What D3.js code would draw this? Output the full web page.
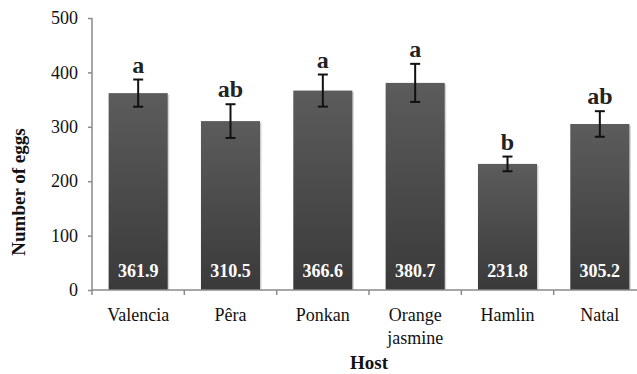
<!DOCTYPE html>
<html>
<head>
<meta charset="utf-8">
<script src="https://cdn.jsdelivr.net/npm/d3@7"></script>
<style>
  body { margin: 0; background: #fff; }
  svg { display: block; }
</style>
</head>
<body>
<div id="chart"></div>
<script>
var hosts = ["Valencia", "Pêra", "Ponkan", "Orange jasmine", "Hamlin", "Natal"];
var eggs = [361.9, 310.5, 366.6, 380.7, 231.8, 305.2];
var errors = [25, 31, 29.5, 35, 13.5, 23.5];
var letters = ["a", "ab", "a", "a", "b", "ab"];
var yTicks = [0, 100, 200, 300, 400, 500];

var width = 637, height = 374;

var svg = d3.select("#chart").append("svg")
    .attr("width", width)
    .attr("height", height);

// note: "top" is taken by window.top, so use plot* names
var plotLeft = 92, plotRight = 646, plotTop = 18, plotBottom = 290;

var x = d3.scaleBand()
    .domain(hosts)
    .range([plotLeft, plotRight])
    .paddingInner(0.36)
    .paddingOuter(0.18);

var y = d3.scaleLinear()
    .domain([0, 500])
    .range([plotBottom, plotTop]);

var defs = svg.append("defs");
var grad = defs.append("linearGradient")
    .attr("id", "barGrad")
    .attr("x1", 0).attr("y1", 0)
    .attr("x2", 0).attr("y2", 1);
grad.append("stop").attr("offset", "0%").attr("stop-color", "#5c5c5c");
grad.append("stop").attr("offset", "100%").attr("stop-color", "#3a3a3a");

// faint shadow behind bars
svg.selectAll(".shadow")
  .data(eggs)
  .enter().append("rect")
    .attr("class", "shadow")
    .attr("x", function(d, i) { return x(hosts[i]) + 1.5; })
    .attr("y", function(d) { return y(d) + 1.5; })
    .attr("width", x.bandwidth())
    .attr("height", function(d) { return plotBottom - y(d) - 1.5; })
    .attr("fill", "#d4d4d4");

svg.selectAll(".bar")
  .data(eggs)
  .enter().append("rect")
    .attr("class", "bar")
    .attr("x", function(d, i) { return x(hosts[i]); })
    .attr("y", function(d) { return y(d); })
    .attr("width", x.bandwidth())
    .attr("height", function(d) { return plotBottom - y(d); })
    .attr("fill", "url(#barGrad)");

// axes
var yAxis = svg.append("g")
    .attr("transform", "translate(" + plotLeft + ",0)")
    .call(d3.axisLeft(y).tickValues(yTicks).tickSize(4).tickPadding(10).tickSizeOuter(0));
yAxis.select(".domain").attr("stroke", "#8a8a8a").attr("stroke-width", 1.5)
    .attr("d", "M0," + (plotBottom + 5) + "V" + plotTop);
yAxis.selectAll(".tick line").attr("stroke", "#8a8a8a").attr("stroke-width", 1.5);
yAxis.selectAll(".tick text")
    .attr("font-family", "Liberation Serif")
    .attr("font-size", 18)
    .attr("fill", "#111");

svg.append("line")
    .attr("x1", plotLeft).attr("x2", width)
    .attr("y1", plotBottom).attr("y2", plotBottom)
    .attr("stroke", "#8a8a8a").attr("stroke-width", 1.5);

svg.selectAll(".xtick")
  .data(hosts.slice(1))
  .enter().append("line")
    .attr("class", "xtick")
    .attr("x1", function(d) { return x(d) - x.step() * x.paddingInner() / 2; })
    .attr("x2", function(d) { return x(d) - x.step() * x.paddingInner() / 2; })
    .attr("y1", plotBottom).attr("y2", plotBottom + 5)
    .attr("stroke", "#8a8a8a").attr("stroke-width", 1.5);

// error bars
var cap = 5;
var eb = svg.selectAll(".err")
  .data(eggs)
  .enter().append("g")
    .attr("class", "err")
    .attr("stroke", "#111")
    .attr("stroke-width", 2);
eb.append("line")
    .attr("x1", function(d, i) { return x(hosts[i]) + x.bandwidth() / 2; })
    .attr("x2", function(d, i) { return x(hosts[i]) + x.bandwidth() / 2; })
    .attr("y1", function(d, i) { return y(d + errors[i]); })
    .attr("y2", function(d, i) { return y(d - errors[i]); });
eb.append("line")
    .attr("x1", function(d, i) { return x(hosts[i]) + x.bandwidth() / 2 - cap; })
    .attr("x2", function(d, i) { return x(hosts[i]) + x.bandwidth() / 2 + cap; })
    .attr("y1", function(d, i) { return y(d + errors[i]); })
    .attr("y2", function(d, i) { return y(d + errors[i]); });
eb.append("line")
    .attr("x1", function(d, i) { return x(hosts[i]) + x.bandwidth() / 2 - cap; })
    .attr("x2", function(d, i) { return x(hosts[i]) + x.bandwidth() / 2 + cap; })
    .attr("y1", function(d, i) { return y(d - errors[i]); })
    .attr("y2", function(d, i) { return y(d - errors[i]); });

// significance letters
svg.selectAll(".letter")
  .data(letters)
  .enter().append("text")
    .attr("class", "letter")
    .text(function(d) { return d; })
    .attr("x", function(d, i) { return x(hosts[i]) + x.bandwidth() / 2; })
    .attr("y", function(d, i) { return y(eggs[i] + errors[i]) - 7; })
    .attr("text-anchor", "middle")
    .attr("font-family", "Liberation Serif")
    .attr("font-weight", "bold")
    .attr("font-size", 24)
    .attr("fill", "#222");

// values inside bars
svg.selectAll(".val")
  .data(eggs)
  .enter().append("text")
    .attr("class", "val")
    .text(function(d) { return d.toFixed(1); })
    .attr("x", function(d, i) { return x(hosts[i]) + x.bandwidth() / 2; })
    .attr("y", plotBottom - 13)
    .attr("text-anchor", "middle")
    .attr("font-family", "Liberation Serif")
    .attr("font-weight", "bold")
    .attr("font-size", 18)
    .attr("fill", "#fff");

// category labels
var cat = svg.selectAll(".cat")
  .data(hosts)
  .enter().append("text")
    .attr("class", "cat")
    .attr("x", function(d) { return x(d) + x.bandwidth() / 2; })
    .attr("y", 321)
    .attr("text-anchor", "middle")
    .attr("font-family", "Liberation Serif")
    .attr("font-size", 18)
    .attr("fill", "#111");
cat.each(function(d) {
  var words = d === "Orange jasmine" ? ["Orange", "jasmine"] : [d];
  var t = d3.select(this);
  words.forEach(function(w, k) {
    t.append("tspan")
      .attr("x", x(d) + x.bandwidth() / 2)
      .attr("dy", k === 0 ? 0 : 23)
      .text(w);
  });
});

svg.append("text")
    .text("Host")
    .attr("x", (plotLeft + plotRight) / 2)
    .attr("y", 369)
    .attr("text-anchor", "middle")
    .attr("font-family", "Liberation Serif")
    .attr("font-weight", "bold")
    .attr("font-size", 19)
    .attr("fill", "#111");

svg.append("text")
    .text("Number of eggs")
    .attr("transform", "translate(25,192) rotate(-90)")
    .attr("text-anchor", "middle")
    .attr("font-family", "Liberation Serif")
    .attr("font-weight", "bold")
    .attr("font-size", 19)
    .attr("fill", "#111");
</script>
</body>
</html>
